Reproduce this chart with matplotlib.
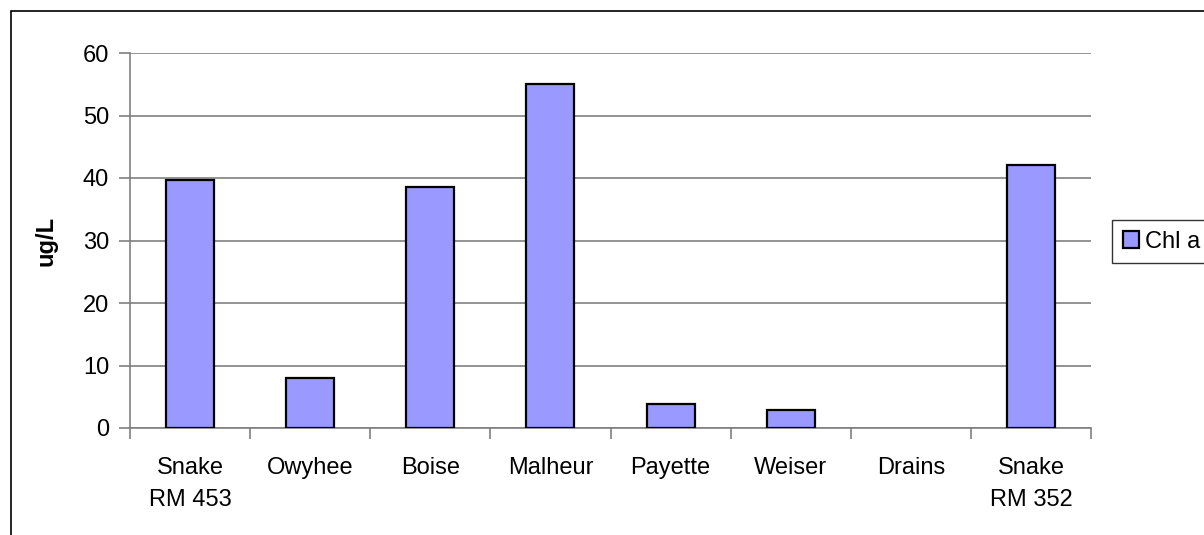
import numpy as np
import matplotlib.pyplot as plt
from matplotlib.patches import Rectangle

#------Datos----------
sitios = ['Snake\nRM 453', 'Owyhee', 'Boise', 'Malheur', 'Payette', 'Weiser', 'Drains', 'Snake\nRM 352']
chl_a = [39.7, 8.0, 38.5, 55.1, 3.9, 2.9, np.nan, 42.1]  # Drains sin dato
y_ticks = [0, 10, 20, 30, 40, 50, 60]

plt.rcParams['font.family'] = ['Liberation Sans', 'DejaVu Sans']

fig = plt.figure(figsize=(12.04, 5.35), dpi=100)
W, H = 1204, 535
# area del grafico en pixeles: izq 130, der 1091, arriba 53, abajo 428
ax = fig.add_axes([130 / W, 1 - 428 / H, (1091 - 130) / W, (428 - 53) / H])

x = np.arange(len(sitios))
ax.bar(x, chl_a, width=0.4, color='#9999FF', edgecolor='black', linewidth=1.6,
       label='Chl a', zorder=3)

ax.set_xlim(-0.5, len(sitios) - 0.5)
ax.set_ylim(0, 60)
ax.set_yticks(y_ticks)
ax.yaxis.grid(True, color='#808080', linewidth=1.2, zorder=0)

# ticks x en los limites de categoria
ax.set_xticks(np.arange(len(sitios) + 1) - 0.5)
ax.set_xticklabels([])
ax.set_xticks(x, minor=True)
ax.set_xticklabels(sitios, minor=True, fontsize=17, linespacing=1.6)
ax.tick_params(axis='x', which='minor', length=0, pad=21)
ax.tick_params(axis='x', which='major', length=8, width=1.2, color='#808080', direction='out')
ax.tick_params(axis='y', length=8, width=1.2, color='#808080', direction='out', labelsize=17, pad=7)

for s in ['top', 'right']:
    ax.spines[s].set_visible(False)
for s in ['left', 'bottom']:
    ax.spines[s].set_color('#808080')
    ax.spines[s].set_linewidth(1.2)

ax.set_ylabel('ug/L', fontsize=17, fontweight='bold', labelpad=18)

leg = fig.legend(loc='upper left', bbox_to_anchor=(1112 / W, 1 - 220 / H), fontsize=17,
                 frameon=True, fancybox=False, edgecolor='black', handlelength=0.7,
                 handleheight=0.7, handletextpad=0.25, borderpad=0.45, borderaxespad=0)
leg.get_frame().set_linewidth(1.0)

# marco exterior del grafico
fig.patches.append(Rectangle((11 / W, -0.1), 1.2, 1 - 11 / H + 0.1, transform=fig.transFigure,
                             fill=False, edgecolor='black', linewidth=1.2))

plt.savefig('out.png', dpi=100)
